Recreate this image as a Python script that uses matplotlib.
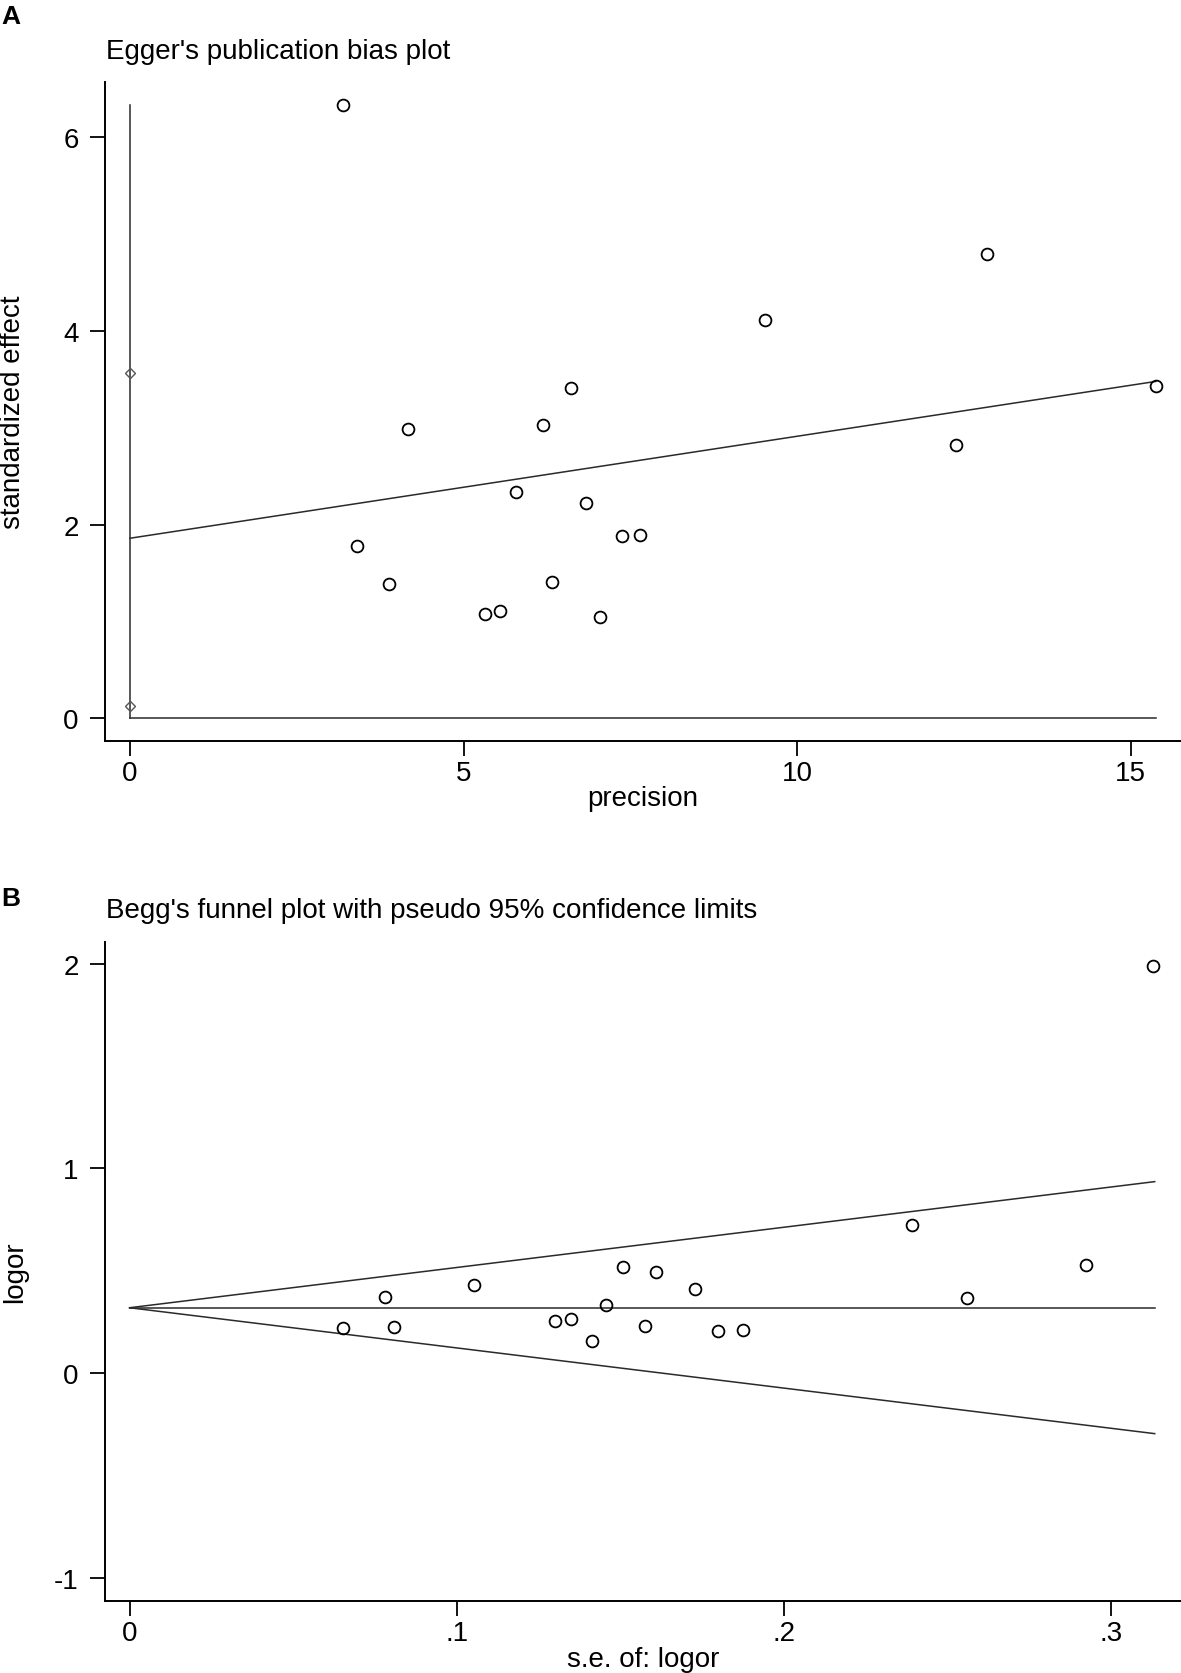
import matplotlib
matplotlib.use("Agg")
import matplotlib.pyplot as plt

plt.rcParams['font.family'] = ['Liberation Sans', 'DejaVu Sans']
plt.rcParams['axes.unicode_minus'] = False

# Egger's plot values (precision, standardized effect)
egger_precision = [3.19, 12.85, 9.52, 15.38, 6.61, 4.17, 6.19, 12.38, 5.78,
                   6.83, 7.37, 7.64, 3.40, 3.89, 6.32, 5.32, 5.55, 7.05]
egger_std_effect = [6.34, 4.80, 4.11, 3.43, 3.41, 2.99, 3.03, 2.82, 2.34,
                    2.22, 1.88, 1.89, 1.78, 1.39, 1.41, 1.08, 1.105, 1.05]
egger_fit_x = [0.0, 15.38]
egger_fit_y = [1.86, 3.48]
egger_ci_y = [3.57, 0.13]
egger_xticks = [0, 5, 10, 15]
egger_yticks = [0, 2, 4, 6]

# Begg's funnel values (s.e. of logor, logor)
begg_se = [0.0652, 0.0780, 0.0809, 0.1052, 0.1300, 0.1350, 0.1415, 0.1457, 0.1510,
           0.1575, 0.1610, 0.1728, 0.1800, 0.1875, 0.2393, 0.2560, 0.2925, 0.3130]
begg_logor = [0.221, 0.373, 0.226, 0.431, 0.255, 0.266, 0.156, 0.334, 0.520,
              0.230, 0.495, 0.410, 0.203, 0.209, 0.725, 0.365, 0.527, 1.990]
funnel_se = [0.0, 0.3135]
funnel_mid = [0.319, 0.319]
funnel_upper = [0.319, 0.935]
funnel_lower = [0.319, -0.296]
begg_xticks = [0, 0.1, 0.2, 0.3]
begg_xticklabels = ['0', '.1', '.2', '.3']
begg_yticks = [-1, 0, 1, 2]

W, H = 1181, 1674
fig = plt.figure(figsize=(W / 100, H / 100), dpi=100)

def style_axis(ax):
    for s in ['top', 'right']:
        ax.spines[s].set_visible(False)
    for s in ['left', 'bottom']:
        ax.spines[s].set_linewidth(1.4)
    ax.tick_params(direction='out', length=11, width=1.3, labelsize=20, color='black')
    ax.tick_params(axis='x', pad=3)
    ax.tick_params(axis='y', pad=8)
    ax.patch.set_visible(False)

line_kw = dict(color='#2a2a2a', lw=1.1)
circ_kw = dict(ls='none', marker='o', ms=8.5, mfc='none', mec='black', mew=1.3)

# ---- panel A
ax1 = fig.add_axes([105 / W, 1 - 742 / H, (W - 105) / W, (742 - 83) / H])
style_axis(ax1)
ax1.plot([0, 0], [0, max(egger_std_effect)], **line_kw)
ax1.plot([0, max(egger_precision)], [0, 0], **line_kw)
ax1.plot(egger_fit_x, egger_fit_y, **line_kw)
ax1.plot([0, 0], egger_ci_y, ls='none', marker='D', ms=5, mfc='none', mec='#555555', mew=1.0)
ax1.plot(egger_precision, egger_std_effect, **circ_kw)
ax1.set_xlim(-0.375, 15.757)
ax1.set_ylim(-0.2345, 6.573)
ax1.set_xticks(egger_xticks)
ax1.set_yticks(egger_yticks)

fig.text(1 / W, 1 - 24 / H, 'A', fontsize=19, fontweight='bold', va='baseline', ha='left')
fig.text(106 / W, 1 - 59 / H, "Egger's publication bias plot", fontsize=20, va='baseline', ha='left')
fig.text(13 / W, 1 - 412 / H, 'standardized effect', fontsize=20, rotation=90, ha='center', va='center')
fig.text(643 / W, 1 - 799 / H, 'precision', fontsize=20, ha='center', va='center')

# ---- panel B
ax2 = fig.add_axes([105 / W, 1 - 1601.7 / H, (W - 105) / W, (1601.7 - 943) / H])
style_axis(ax2)
ax2.plot(funnel_se, funnel_mid, **line_kw)
ax2.plot(funnel_se, funnel_upper, **line_kw)
ax2.plot(funnel_se, funnel_lower, **line_kw)
ax2.plot(begg_se, begg_logor, **circ_kw)
ax2.set_xlim(-0.00752, 0.32153)
ax2.set_ylim(-1.112, 2.1055)
ax2.set_xticks(begg_xticks)
ax2.set_xticklabels(begg_xticklabels)
ax2.set_yticks(begg_yticks)

fig.text(1 / W, 1 - 906 / H, 'B', fontsize=19, fontweight='bold', va='baseline', ha='left')
fig.text(106 / W, 1 - 918 / H, "Begg's funnel plot with pseudo 95% confidence limits",
         fontsize=20, va='baseline', ha='left')
fig.text(15 / W, 1 - 1272 / H, 'logor', fontsize=20, rotation=90, ha='center', va='center')
fig.text(643 / W, 1 - 1660 / H, 's.e. of: logor', fontsize=20, ha='center', va='center')

fig.savefig('out.png', dpi=100, facecolor='white')
